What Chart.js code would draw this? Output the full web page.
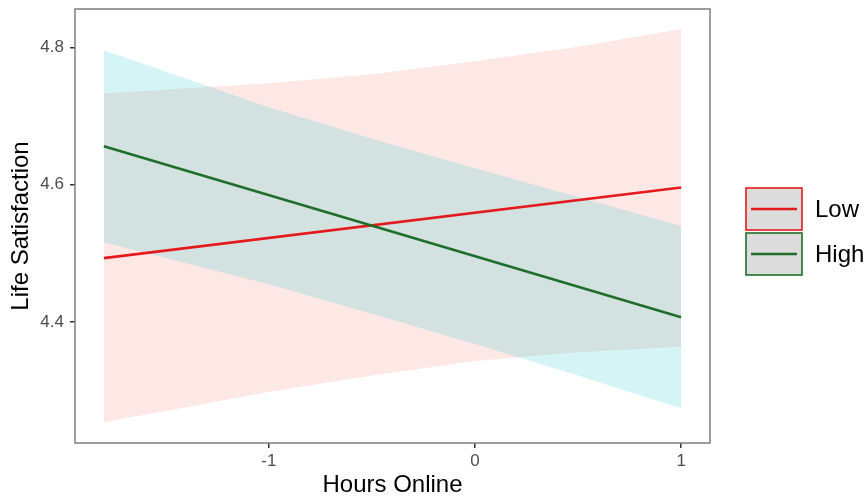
<!DOCTYPE html>
<html>
<head>
<meta charset="utf-8">
<script src="https://cdn.jsdelivr.net/npm/chart.js@4/dist/chart.umd.min.js"></script>
<style>
  html, body { margin: 0; padding: 0; background: #fff; }
  #wrap { width: 867px; height: 497px; }
</style>
</head>
<body>
<div id="wrap"><canvas id="chart" width="867" height="497"></canvas></div>
<script>
/* ===== DATA ===== */
const seriesNames = ["Low", "High"];
const lineX = [-1.8, 1];
const lowFit = [4.493, 4.596];
const highFit = [4.656, 4.407];

const bandX = [-1.8, -1, -0.5, 0, 0.5, 1];
const lowUpper = [4.733, 4.748, 4.761, 4.780, 4.801, 4.827];
const lowLower = [4.254, 4.298, 4.322, 4.343, 4.356, 4.364];
const highUpper = [4.796, 4.713, 4.667, 4.624, 4.582, 4.540];
const highLower = [4.516, 4.455, 4.412, 4.368, 4.322, 4.274];

const xTicks = [-1, 0, 1];
const yTicks = [4.4, 4.6, 4.8];

/* ===== STYLE ===== */
const FONT = "'Liberation Sans', Arial, sans-serif";
const lineColors = ["#e41a1c", "#1f6e2a"];
const bandColors = ["rgba(248,118,109,0.17)", "rgba(0,191,196,0.17)"];

const pts = (xs, ys) => xs.map((x, i) => ({ x, y: ys[i] }));

function band(label, ys, fill, color) {
  return {
    label,
    data: pts(bandX, ys),
    borderWidth: 0,
    pointRadius: 0,
    backgroundColor: color,
    fill,
  };
}

/* ===== LEGEND + PANEL BORDER ===== */
const decor = {
  id: "decor",
  afterDraw(chart) {
    const { ctx, chartArea: a } = chart;
    ctx.save();
    ctx.strokeStyle = "#7f7f7f";
    ctx.lineWidth = 1.5;
    ctx.strokeRect(a.left, a.top, a.right - a.left, a.bottom - a.top);

    const keyX = 746, keyW = 56, keyH = 42;
    const keyY = [188, 233];
    seriesNames.forEach((name, i) => {
      const y = keyY[i];
      ctx.fillStyle = "#dcdcdc";
      ctx.fillRect(keyX, y, keyW, keyH);
      ctx.strokeStyle = lineColors[i];
      ctx.lineWidth = 1.6;
      ctx.strokeRect(keyX, y, keyW, keyH);
      ctx.lineWidth = 2.6;
      ctx.beginPath();
      ctx.moveTo(keyX + 5, y + keyH / 2);
      ctx.lineTo(keyX + keyW - 5, y + keyH / 2);
      ctx.stroke();
      ctx.fillStyle = "#000";
      ctx.font = `24px ${FONT}`;
      ctx.textBaseline = "middle";
      ctx.fillText(name, 815, y + keyH / 2 + 1);
    });
    ctx.restore();
  },
};

// keep the panel box at fixed size: no extra label padding
function noPad(s) {
  s.paddingTop = 0;
  s.paddingBottom = 0;
  s.paddingLeft = 0;
  s.paddingRight = 0;
}

/* ===== CHART ===== */
new Chart(document.getElementById("chart"), {
  type: "line",
  data: {
    datasets: [
      {
        label: seriesNames[1],
        data: pts(lineX, highFit),
        borderColor: lineColors[1],
        borderWidth: 2.6,
        pointRadius: 0,
        fill: false,
      },
      {
        label: seriesNames[0],
        data: pts(lineX, lowFit),
        borderColor: lineColors[0],
        borderWidth: 2.6,
        pointRadius: 0,
        fill: false,
      },
      band("High upper", highUpper, "+1", bandColors[1]),
      band("High lower", highLower, false, bandColors[1]),
      band("Low upper", lowUpper, "+1", bandColors[0]),
      band("Low lower", lowLower, false, bandColors[0]),
    ],
  },
  options: {
    responsive: false,
    animation: false,
    layout: { padding: { top: 9, right: 157, left: 0, bottom: 0 } },
    plugins: { legend: { display: false }, tooltip: { enabled: false } },
    scales: {
      x: {
        type: "linear",
        min: -1.94,
        max: 1.14,
        afterBuildTicks: (s) => { s.ticks = xTicks.map((v) => ({ value: v })); },
        afterFit: (s) => { s.height = 54; noPad(s); },
        ticks: {
          color: "#4d4d4d",
          font: { family: FONT, size: 17 },
          padding: 3,
          maxRotation: 0,
          callback: (v) => String(v),
        },
        grid: { drawOnChartArea: false, drawTicks: true, tickLength: 5, color: "#333", lineWidth: 1.5 },
        border: { display: false },
        title: {
          display: true,
          text: "Hours Online",
          color: "#000",
          font: { family: FONT, size: 24, lineHeight: 1 },
          padding: { top: 0, bottom: 0 },
        },
      },
      y: {
        type: "linear",
        min: 4.2237,
        max: 4.856,
        afterBuildTicks: (s) => { s.ticks = yTicks.map((v) => ({ value: v })); },
        afterFit: (s) => { s.width = 75; noPad(s); },
        ticks: {
          color: "#4d4d4d",
          font: { family: FONT, size: 17 },
          padding: 6,
          callback: (v) => v.toFixed(1),
        },
        grid: { drawOnChartArea: false, drawTicks: true, tickLength: 5, color: "#333", lineWidth: 1.5 },
        border: { display: false },
        title: {
          display: true,
          text: "Life Satisfaction",
          color: "#000",
          font: { family: FONT, size: 24, lineHeight: 1.2 },
          padding: { top: 7, bottom: 0 },
        },
      },
    },
  },
  plugins: [decor],
});
</script>
</body>
</html>
